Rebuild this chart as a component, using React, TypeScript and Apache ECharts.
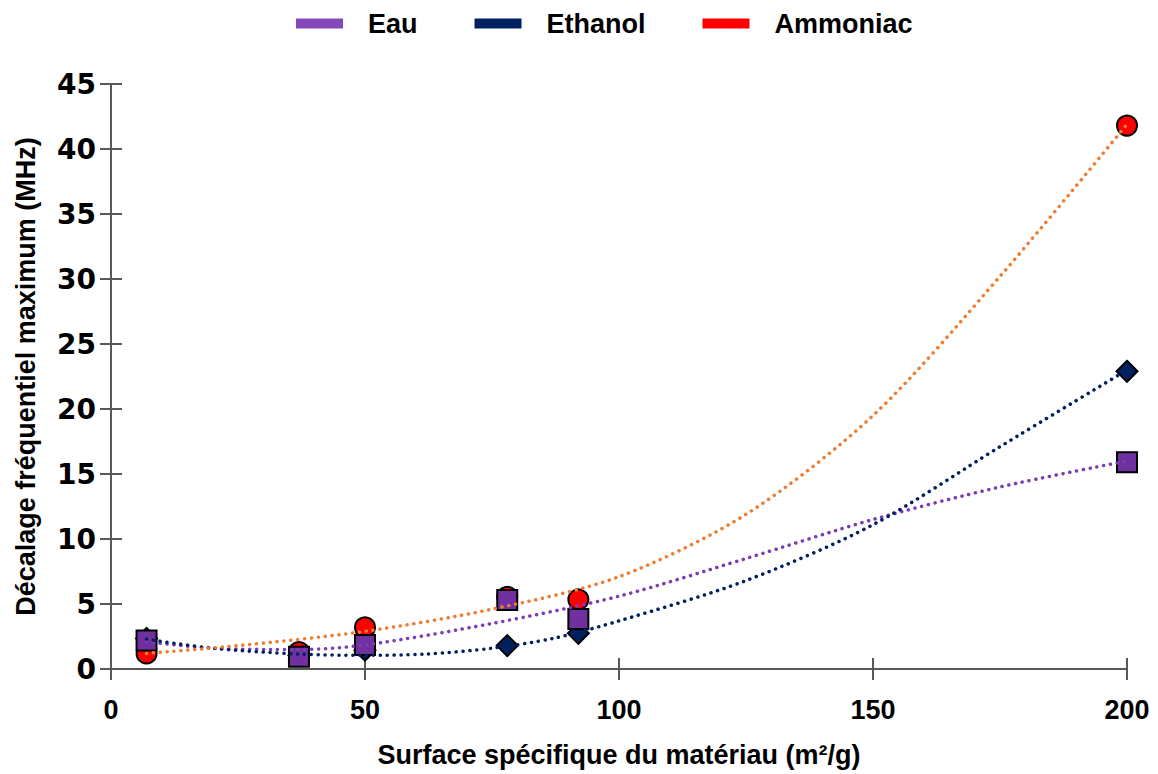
import React, { useEffect, useRef } from "react";
import * as echarts from "echarts";

// Measured points
const surfaces = [7, 37, 50, 78, 92, 200];
const eauValues = [2.2, 0.95, 1.85, 5.3, 3.85, 15.9];
const ethanolValues = [2.35, 1.05, 1.45, 1.8, 2.75, 22.9];
const ammoniacValues = [1.2, 1.3, 3.2, 5.55, 5.35, 41.8];

// Trendlines
const eauTrendX = [7, 20, 37, 50, 75, 100, 125, 150, 175, 200];
const eauTrendY = [2.1, 1.6, 1.5, 1.85, 3.5, 5.6, 8.5, 11.5, 14.0, 16.0];
const ethanolTrendX = [7, 20, 37, 50, 62, 75, 87, 100, 125, 150, 175, 200];
const ethanolTrendY = [2.3, 1.6, 1.15, 1.05, 1.15, 1.6, 2.35, 3.7, 6.8, 11.1, 17.1, 23.0];
const ammoniacTrendX = [7, 25, 50, 75, 100, 125, 150, 175, 200];
const ammoniacTrendY = [1.2, 1.8, 2.9, 4.6, 7.1, 11.9, 19.5, 30.2, 41.9];

const seriesNames = ["Eau", "Ethanol", "Ammoniac"];
const xTitle = "Surface spécifique du matériau (m²/g)";
const yTitle = "Décalage fréquentiel maximum (MHz)";

const zip = (xs: number[], ys: number[]) => xs.map((x, i) => [x, ys[i]]);

export default function App() {
  const ref = useRef<HTMLDivElement>(null);
  useEffect(() => {
    if (!ref.current) return;
    const chart = echarts.init(ref.current, undefined, { renderer: "svg" });
    const axisColor = "#595959";
    const titleFont = { fontFamily: "Liberation Sans", fontWeight: "bold" as const, fontSize: 27, color: "#000" };
    const dotted = (color: string) => ({
      color,
      width: 3.5,
      type: [0.1, 6.8] as any,
      cap: "round" as const,
      opacity: 1,
    });
    chart.setOption({
      animation: false,
      backgroundColor: "#fff",
      legend: {
        left: 291,
        top: 5,
        itemWidth: 47,
        itemHeight: 10,
        itemGap: 57,
        icon: "rect",
        textStyle: { ...titleFont, padding: [0, 0, 0, 20] },
        itemStyle: { borderWidth: 0, opacity: 1 },
        data: [
          { name: seriesNames[0], itemStyle: { color: "#8549B8", borderWidth: 0, opacity: 1 } },
          { name: seriesNames[1], itemStyle: { color: "#002060", borderWidth: 0, opacity: 1 } },
          { name: seriesNames[2], itemStyle: { color: "#FF0000", borderWidth: 0, opacity: 1 } },
        ],
      },
      grid: { left: 111, right: 31, top: 84, bottom: 105 },
      xAxis: [
        {
          type: "value",
          min: 0,
          max: 200,
          interval: 50,
          position: "bottom",
          axisLine: { show: true, lineStyle: { color: axisColor, width: 2 } },
          axisTick: { show: true, inside: false, length: 11, lineStyle: { color: axisColor, width: 2 } },
          axisLabel: { ...titleFont, margin: 27 },
          splitLine: { show: false },
          name: xTitle,
          nameLocation: "middle",
          nameGap: 72,
          nameTextStyle: titleFont,
        },
        {
          type: "value",
          min: 0,
          max: 200,
          interval: 50,
          position: "bottom",
          axisLine: { show: false },
          axisTick: { show: true, inside: true, length: 11, lineStyle: { color: axisColor, width: 2 } },
          axisLabel: { show: false },
          splitLine: { show: false },
        },
      ],
      yAxis: [
        {
          type: "value",
          min: 0,
          max: 45,
          interval: 5,
          position: "left",
          axisLine: { show: true, lineStyle: { color: axisColor, width: 2 } },
          axisTick: { show: true, inside: false, length: 11, lineStyle: { color: axisColor, width: 2 } },
          axisLabel: { fontFamily: "DejaVu Sans", fontWeight: "bold", fontSize: 28, color: "#000", margin: 15 },
          splitLine: { show: false },
          name: yTitle,
          nameLocation: "middle",
          nameGap: 72,
          nameTextStyle: titleFont,
        },
        {
          type: "value",
          min: 0,
          max: 45,
          interval: 5,
          position: "left",
          axisLine: { show: false },
          axisTick: { show: true, inside: true, length: 11, lineStyle: { color: axisColor, width: 2 } },
          axisLabel: { show: false },
          splitLine: { show: false },
        },
      ],
      series: [
        {
          name: seriesNames[1],
          type: "scatter",
          symbol: "diamond",
          symbolSize: 21,
          z: 2,
          itemStyle: { color: "#002060", borderColor: "#000", borderWidth: 2, opacity: 1 },
          data: zip(surfaces, ethanolValues),
        },
        {
          name: seriesNames[2],
          type: "scatter",
          symbol: "circle",
          symbolSize: 20,
          z: 3,
          itemStyle: { color: "#FF0000", borderColor: "#000", borderWidth: 2, opacity: 1 },
          data: zip(surfaces, ammoniacValues),
        },
        {
          name: seriesNames[0],
          type: "scatter",
          symbol: "rect",
          symbolSize: 20,
          z: 4,
          itemStyle: { color: "#7030A0", borderColor: "#000", borderWidth: 2, opacity: 1 },
          data: zip(surfaces, eauValues),
        },
        {
          name: "Tendance Eau",
          type: "line",
          smooth: 0.3,
          showSymbol: false,
          z: 6,
          lineStyle: dotted("#7B3DB5"),
          data: zip(eauTrendX, eauTrendY),
        },
        {
          name: "Tendance Ethanol",
          type: "line",
          smooth: 0.3,
          showSymbol: false,
          z: 6,
          lineStyle: dotted("#002060"),
          data: zip(ethanolTrendX, ethanolTrendY),
        },
        {
          name: "Tendance Ammoniac",
          type: "line",
          smooth: 0.3,
          showSymbol: false,
          z: 6,
          lineStyle: dotted("#ED7D31"),
          data: zip(ammoniacTrendX, ammoniacTrendY),
        },
      ],
    });
    return () => chart.dispose();
  }, []);
  return (
    <div
      ref={ref}
      style={{ position: "absolute", left: 0, top: 0, width: 1158, height: 774 }}
    />
  );
}
